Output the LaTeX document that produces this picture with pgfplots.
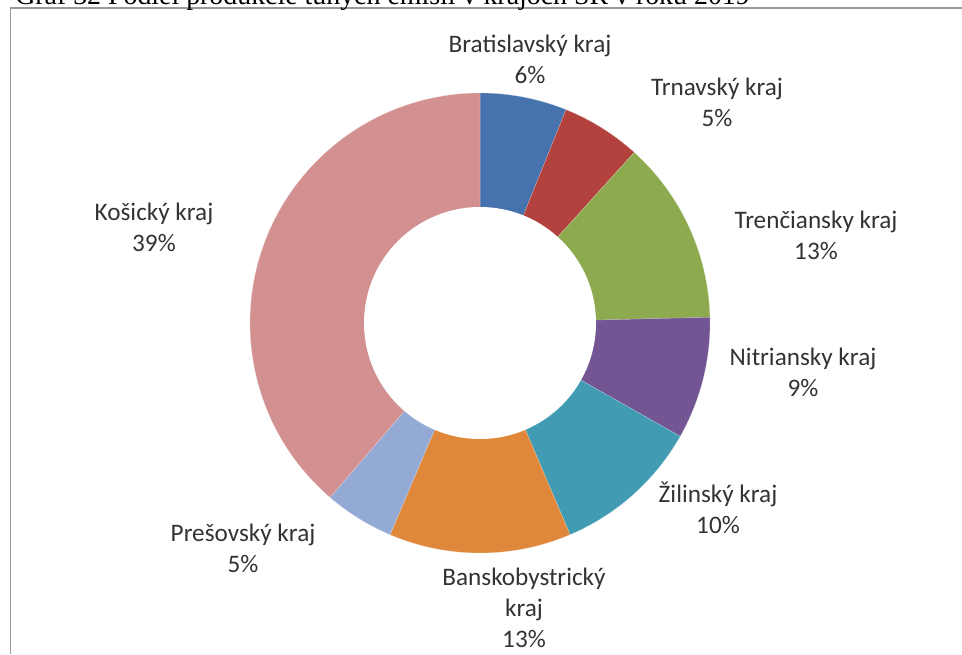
\documentclass[border=0pt]{standalone}
\usepackage{pgfplots}
\pgfplotsset{compat=1.18}
\usepackage{pgfplotstable}
\usepackage{fontspec}
\setmainfont{Carlito}
\newfontfamily\titlefont{Liberation Serif}

\definecolor{c0}{HTML}{4672AE}
\definecolor{c1}{HTML}{B3423F}
\definecolor{c2}{HTML}{8DAA4E}
\definecolor{c3}{HTML}{725592}
\definecolor{c4}{HTML}{409BB3}
\definecolor{c5}{HTML}{DF873A}
\definecolor{c6}{HTML}{93AAD5}
\definecolor{c7}{HTML}{D29090}
\definecolor{txt}{HTML}{333333}
\definecolor{frame}{HTML}{999999}

% shares (%), clockwise from 12 o'clock
\pgfplotstableread{
region value
Bratislavsky 6.1
Trnavsky 5.6
Trenciansky 12.9
Nitriansky 8.6
Zilinsky 10.4
Banskobystricky 12.8
Presovsky 4.9
Kosicky 38.7
}\shares

\gdef\cumsum{0}
\pgfplotsforeachungrouped \i in {0,...,7}{%
  \pgfplotstablegetelem{\i}{value}\of\shares
  \pgfmathsetmacro{\startang}{90-3.6*\cumsum}%
  \pgfmathsetmacro{\newcum}{\cumsum+\pgfplotsretval}%
  \pgfmathsetmacro{\endang}{90-3.6*\newcum}%
  \expandafter\xdef\csname sa\i\endcsname{\startang}%
  \expandafter\xdef\csname ea\i\endcsname{\endang}%
  \xdef\cumsum{\newcum}%
}

\begin{document}
\begin{tikzpicture}
\begin{axis}[
  at={(0pt,0pt)}, anchor=south west,
  width=721.5pt, height=490.5pt, scale only axis,
  xmin=0, xmax=962, ymin=0, ymax=654,
  hide axis, clip=false,
]
% frame
\draw[frame, line width=1.4pt] (axis cs:10.5,0) -- (axis cs:10.5,646) -- (axis cs:962,646);
% title (cut off at the top, as in the source)
\node[anchor=base west, inner sep=0pt, font=\titlefont\fontsize{20.9}{25}\selectfont]
  at (axis cs:15,649.5) {Graf 32 Podiel produkcie tuhých emisií v krajoch SR v roku 2019};
% slices
\pgfplotsinvokeforeach{0,...,7}{%
  \edef\temp{\noexpand\fill[c#1, draw=white!60!c#1, line width=0.15pt] (axis cs:480,331) -- ++(\csname sa#1\endcsname:172.5pt) arc[start angle=\csname sa#1\endcsname, end angle=\csname ea#1\endcsname, radius=172.5pt] -- cycle;}%
  \temp
}
\fill[white] (axis cs:480,331) circle[radius=87pt];
% labels
\begin{scope}[every node/.style={align=center, text=txt, inner sep=0pt,
    font=\fontsize{18.9}{23.25}\selectfont}]
\node at (axis cs:530,594.5) {Bratislavský kraj\\6\%};
\node at (axis cs:717,552) {Trnavský kraj\\5\%};
\node at (axis cs:816,418.5) {Trenčiansky kraj\\13\%};
\node at (axis cs:803,282) {Nitriansky kraj\\9\%};
\node at (axis cs:718,146.5) {Žilinský kraj\\10\%};
\node at (axis cs:524,46) {Banskobystrický\\kraj\\13\%};
\node at (axis cs:243,106) {Prešovský kraj\\5\%};
\node at (axis cs:154,427) {Košický kraj\\39\%};
\end{scope}
\end{axis}
\pgfresetboundingbox
\useasboundingbox (0pt,0pt) rectangle (721.5pt,490.5pt);
\end{tikzpicture}
\end{document}
